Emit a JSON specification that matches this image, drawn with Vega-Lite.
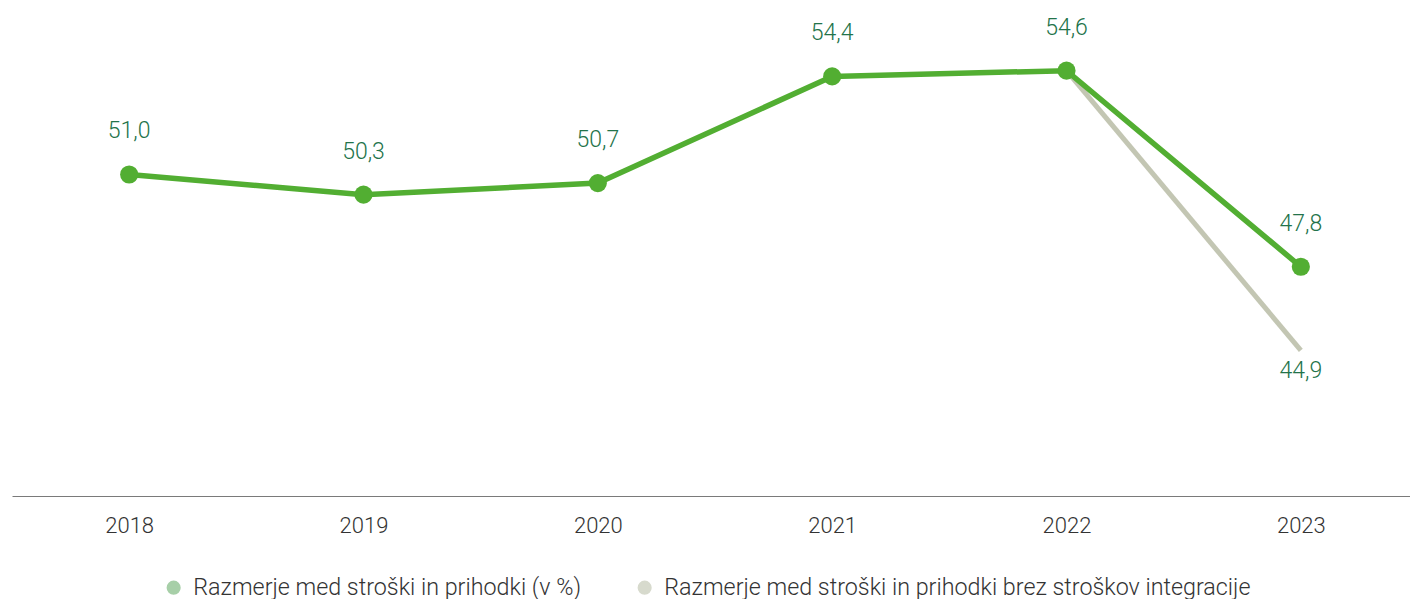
{
  "$schema": "https://vega.github.io/schema/vega-lite/v6.json",
  "width": 1406,
  "height": 496,
  "padding": {"left": 12, "top": 0, "right": 0, "bottom": 0},
  "background": "white",
  "config": {
    "view": {"stroke": null},
    "font": "Roboto",
    "locale": {"number": {"decimal": ",", "thousands": ".", "grouping": [3], "currency": ["", " €"]}}
  },
  "data": {
    "values": [
      {"year": "2018", "series": "Razmerje med stroški in prihodki (v %)", "value": 51.0},
      {"year": "2019", "series": "Razmerje med stroški in prihodki (v %)", "value": 50.3},
      {"year": "2020", "series": "Razmerje med stroški in prihodki (v %)", "value": 50.7},
      {"year": "2021", "series": "Razmerje med stroški in prihodki (v %)", "value": 54.4},
      {"year": "2022", "series": "Razmerje med stroški in prihodki (v %)", "value": 54.6},
      {"year": "2023", "series": "Razmerje med stroški in prihodki (v %)", "value": 47.8},
      {"year": "2022", "series": "Razmerje med stroški in prihodki brez stroškov integracije", "value": 54.6},
      {"year": "2023", "series": "Razmerje med stroški in prihodki brez stroškov integracije", "value": 44.9}
    ]
  },
  "encoding": {
    "x": {
      "field": "year", "type": "ordinal",
      "scale": {"type": "point", "padding": 0.5},
      "axis": {
        "title": null, "labelAngle": 0, "ticks": false, "grid": false,
        "domainColor": "#7a7a7a", "domainWidth": 1,
        "labelFontSize": 22, "labelFontWeight": 300, "labelColor": "#333333", "labelPadding": 19,
        "labelFont": "Roboto"
      }
    },
    "y": {
      "field": "value", "type": "quantitative",
      "scale": {"domain": [39.85, 57.05], "zero": false, "nice": false},
      "axis": null
    }
  },
  "layer": [
    {
      "transform": [{"filter": "datum.series === 'Razmerje med stroški in prihodki brez stroškov integracije'"}],
      "mark": {"type": "line", "strokeWidth": 5, "strokeCap": "butt"},
      "encoding": {
        "color": {
          "field": "series", "type": "nominal",
          "scale": {
            "domain": ["Razmerje med stroški in prihodki (v %)", "Razmerje med stroški in prihodki brez stroškov integracije"],
            "range": ["#52ae32", "#c3c6b3"]
          },
          "legend": {
            "orient": "none", "direction": "horizontal",
            "legendX": 150, "legendY": 576,
            "title": null, "symbolType": "circle", "symbolSize": 200,
            "symbolStrokeWidth": 0, "labelLimit": 0,
            "labelFontSize": 23.3, "labelFontWeight": 300, "labelColor": "#333333", "labelFont": "Roboto",
            "labelOffset": 8, "columnPadding": 52,
            "encode": {
              "symbols": {
                "update": {
                  "fill": [
                    {"test": "datum.value === 'Razmerje med stroški in prihodki (v %)'", "value": "#a7cfa8"},
                    {"value": "#d7dacd"}
                  ],
                  "stroke": {"value": "transparent"}
                }
              }
            }
          }
        }
      }
    },
    {
      "transform": [{"filter": "datum.series === 'Razmerje med stroški in prihodki (v %)'"}],
      "mark": {"type": "line", "strokeWidth": 5.5, "color": "#52ae32"},
      "encoding": {}
    },
    {
      "transform": [{"filter": "datum.series === 'Razmerje med stroški in prihodki (v %)'"}],
      "mark": {"type": "point", "filled": true, "size": 330, "color": "#52ae32", "opacity": 1},
      "encoding": {}
    },
    {
      "transform": [{"filter": "datum.series === 'Razmerje med stroški in prihodki (v %)'"}],
      "mark": {"type": "text", "fontSize": 23, "fontWeight": 300, "color": "#23734a", "baseline": "alphabetic", "dy": -36, "font": "Roboto"},
      "encoding": {"text": {"field": "value", "type": "quantitative", "format": ".1f"}}
    },
    {
      "transform": [{"filter": "datum.series === 'Razmerje med stroški in prihodki brez stroškov integracije' && datum.year === '2023'"}],
      "mark": {"type": "text", "fontSize": 23, "fontWeight": 300, "color": "#23734a", "baseline": "alphabetic", "dy": 28, "font": "Roboto"},
      "encoding": {"text": {"field": "value", "type": "quantitative", "format": ".1f"}}
    }
  ]
}
